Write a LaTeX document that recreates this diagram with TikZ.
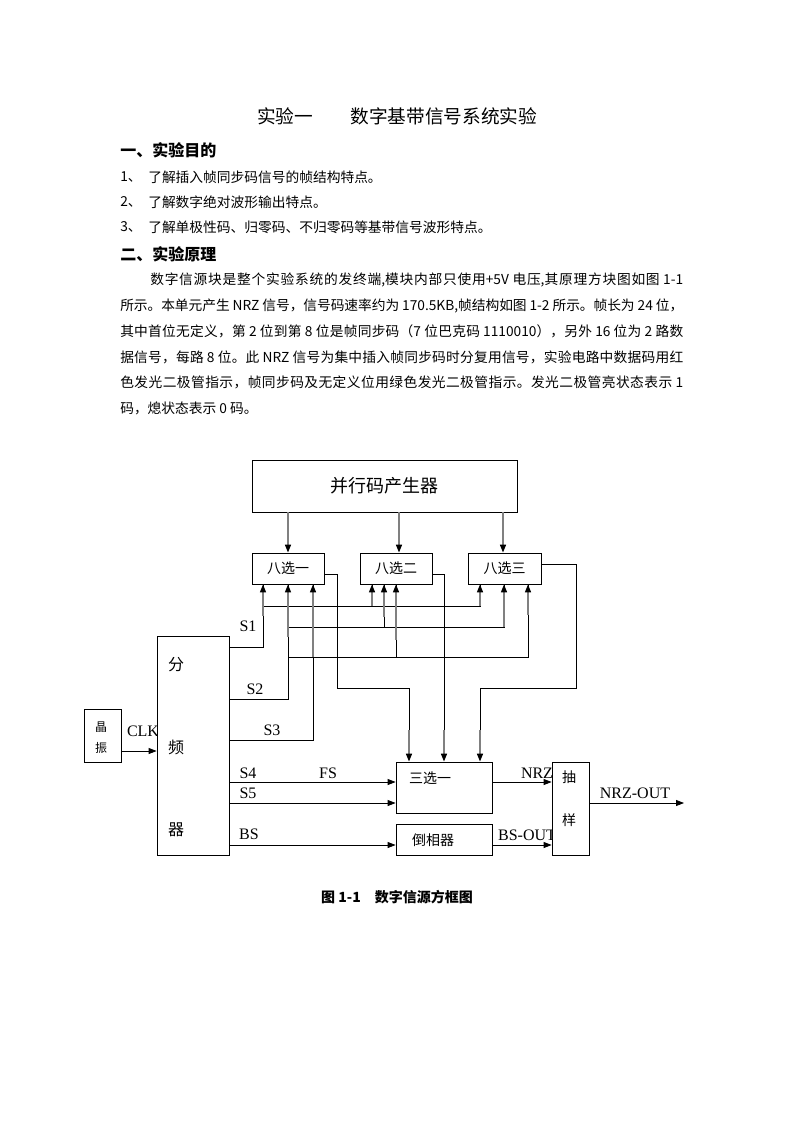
\documentclass[tikz,border=0pt]{standalone}
\usepackage{fontspec}
\setmainfont{Liberation Serif}
\newfontfamily\cjk{Noto Sans CJK SC}
\usetikzlibrary{positioning,arrows.meta}
% classes for justified CJK lines
\newcount\cjkcode
\cjkcode="4E00
\loop
  \XeTeXcharclass\cjkcode=1
  \advance\cjkcode by 1
\ifnum\cjkcode<"A000 \repeat
\XeTeXcharclass"3001=3
\XeTeXcharclass"3002=3
\XeTeXcharclass"FF0C=3
\XeTeXcharclass"FF09=3
\XeTeXcharclass"FF08=2
\XeTeXinterchartokenstate=1
\XeTeXinterchartoks 1 1 = {\hskip 0pt plus 2pt minus 0.4pt}
\XeTeXinterchartoks 1 2 = {\hskip 0pt plus 2pt minus 0.4pt}
\XeTeXinterchartoks 1 3 = {\hskip 0pt plus 2pt minus 0.4pt}
\XeTeXinterchartoks 2 1 = {\hskip 0pt plus 2pt minus 0.4pt}
\XeTeXinterchartoks 3 1 = {\hskip 0pt plus 2pt minus 0.4pt}
\XeTeXinterchartoks 3 2 = {\hskip 0pt plus 2pt minus 0.4pt}

\begin{document}
\begin{tikzpicture}[x=0.75pt,y=-0.75pt,
    >={Triangle[length=6pt,width=4.5pt]},
    box/.style={draw, line width=0.6pt, fill=white, inner sep=0pt},
    wire/.style={line width=0.6pt},
    feed/.style={draw=gray, line width=1.1pt,
        -{Triangle[length=6pt,width=4.5pt,color=black]}},
    lbl/.style={inner sep=0pt, font=\fontsize{12pt}{14pt}\selectfont},
    cn/.style={inner sep=0pt, font=\cjk\fontsize{10.5pt}{12pt}\selectfont},
    body/.style={inner sep=0pt, anchor=west,
        font=\cjk\fontsize{10.3pt}{12pt}\selectfont},
    head/.style={inner sep=0pt, anchor=west,
        font=\cjk\bfseries\fontsize{12pt}{14pt}\selectfont}
]
\useasboundingbox (0,0) rectangle (793,1122);

% TITLE AND TEXT
\node[cn, font=\cjk\fontsize{14pt}{16pt}\selectfont] (title) at (397,116)
{实验一　　数字基带信号系统实验};

\node[head] (aim) at (120,150) {一、实验目的};
\node[body] (n1) at (120,177) {1、};
\node[body] (aim1) at (148,177) {了解插入帧同步码信号的帧结构特点。};
\node[body] (n2) at (120,202) {2、};
\node[body] (aim2) at (148,202) {了解数字绝对波形输出特点。};
\node[body] (n3) at (120,227) {3、};
\node[body] (aim3) at (148,227) {了解单极性码、归零码、不归零码等基带信号波形特点。};

\node[head] (principle) at (120,254) {二、实验原理};
\node[body] (p1) at (150,280)
{\makebox[399.75pt][s]{数字信源块是整个实验系统的发终端,模块内部只使用+5V 电压,其原理方块图如图 1-1}};
\node[body] (p2) at (120,306)
{\makebox[422.25pt][s]{所示。本单元产生 NRZ 信号，信号码速率约为 170.5KB,帧结构如图 1-2 所示。帧长为 24 位，}};
\node[body] (p3) at (120,331)
{\makebox[422.25pt][s]{其中首位无定义，第 2 位到第 8 位是帧同步码（7 位巴克码 1110010），另外 16 位为 2 路数}};
\node[body] (p4) at (120,357)
{\makebox[422.25pt][s]{据信号，每路 8 位。此 NRZ 信号为集中插入帧同步码时分复用信号，实验电路中数据码用红}};
\node[body] (p5) at (120,382)
{\makebox[422.25pt][s]{色发光二极管指示，帧同步码及无定义位用绿色发光二极管指示。发光二极管亮状态表示 1}};
\node[body] (p6) at (120,408) {码，熄状态表示 0 码。};

% SIGNAL LABELS
\node[lbl] (lS1) at (248,626) {S1};
\node[lbl] (lS2) at (255,689) {S2};
\node[lbl] (lS3) at (272,730) {S3};
\node[lbl] (lS4) at (248,773) {S4};
\node[lbl] (lFS) at (328,773) {FS};
\node[lbl] (lS5) at (248,793) {S5};
\node[lbl] (lBS) at (249,834) {BS};
\node[lbl] (lCLK) at (143,731) {CLK};
\node[lbl] (lNRZ) at (537,773) {NRZ};
\node[lbl] (lBSOUT) at (527,835) {BS-OUT};
\node[lbl] (lOUT) at (635,793) {NRZ-OUT};

% BLOCKS
\node[box, minimum width=198.75pt, minimum height=39pt,
    font=\cjk\fontsize{13.5pt}{15pt}\selectfont] (gen) at (384.5,486) {并行码产生器};

\node[box, cn, draw, fill=white, minimum width=54pt, minimum height=23.25pt] (mux1) at (288,568.5) {八选一};
\node[box, cn, draw, fill=white, minimum width=54pt, minimum height=23.25pt] (mux2) at (396,568.5) {八选二};
\node[box, cn, draw, fill=white, minimum width=54.75pt, minimum height=23.25pt] (mux3) at (504.5,568.5) {八选三};

\node[box, minimum width=54pt, minimum height=164.25pt] (div) at (193,745.5) {};
\node[cn, font=\cjk\fontsize{12pt}{14pt}\selectfont] (divA) at (176,665) {分};
\node[cn, font=\cjk\fontsize{12pt}{14pt}\selectfont] (divB) at (176,747) {频};
\node[cn, font=\cjk\fontsize{12pt}{14pt}\selectfont] (divC) at (176,830) {器};

\node[box, minimum width=27.75pt, minimum height=39.75pt] (osc) at (102.5,735.5) {};
\node[cn, font=\cjk\fontsize{9pt}{11pt}\selectfont] (oscA) at (101,727) {晶};
\node[cn, font=\cjk\fontsize{9pt}{11pt}\selectfont] (oscB) at (101,748) {振};

\node[box, minimum width=72pt, minimum height=38.25pt] (sel) at (444,787.5) {};
\node[cn] (selT) at (430,778) {三选一};

\node[box, minimum width=72pt, minimum height=23.25pt] (inv) at (444,839.5) {};
\node[cn] (invT) at (433,840) {倒相器};

\node[box, minimum width=27.75pt, minimum height=69.75pt] (smp) at (570.5,808.5) {};
\node[cn] (smpA) at (569,777) {抽};
\node[cn] (smpB) at (569,820) {样};

\coordinate (out) at (684,803);

% PARALLEL CODE TO MUXES
\draw[feed] (gen.south -| mux1.north) -- (mux1.north);
\draw[feed] (gen.south -| 399,0) -- (399,0 |- mux2.north);
\draw[feed] (gen.south -| 503,0) -- (503,0 |- mux3.north);

% S1, S2, S3 WIRING
\draw[wire] (div.east |- 0,647) -| (263,0 |- mux1.south);
\draw[wire] (263,606) -| (372,0 |- mux2.south);
\draw[wire] (372,606) -| (480,0 |- mux3.south);
\draw[wire] (div.east |- 0,699) -| (288,0 |- mux1.south);
\draw[wire] (288,627) -| (384,0 |- mux2.south);
\draw[wire] (384,627) -| (504,0 |- mux3.south);
\draw[wire] (288,657) -| (396,0 |- mux2.south);
\draw[wire] (396,657) -| (528,0 |- mux3.south);
\draw[wire] (div.east |- 0,740) -| (313,0 |- mux1.south);

\foreach \x/\y/\m in {263/616/mux1, 288/637/mux1, 313/657/mux1,
    372/606/mux2, 384/617/mux2, 396/640/mux2,
    480/606/mux3, 504/627/mux3, 528/615/mux3}
    \draw[feed] (\x,\y) -- (\x,0 |- \m.south);

% MUX OUTPUTS
\draw[wire] (mux1.east |- 0,574) -- (337,574) -- (337,688) -- (409,688) -- (409,730);
\draw[wire] (mux2.east |- 0,574) -- (444,574) -- (444,730);
\draw[wire] (mux3.east |- 0,564) -- (576,564) -- (576,688) -- (480,688) -- (480,730);
\foreach \x in {409,444,480}
    \draw[feed] (\x,730) -- (\x,0 |- sel.north);

% LOWER SIGNALS
\draw[wire,->] (osc.east |- 0,751) -- (div.west |- 0,751);
\draw[wire,->] (div.east |- 0,782) -- (sel.west |- 0,782);
\draw[wire,->] (div.east |- 0,803) -- (sel.west |- 0,803);
\draw[wire,->] (div.east |- 0,845) -- (inv.west |- 0,845);
\draw[wire,->] (sel.east |- 0,782) -- (smp.west |- 0,782);
\draw[wire,->] (inv.east |- 0,845) -- (smp.west |- 0,845);
\draw[wire,->] (smp.east |- out) -- (out);

\node[cn, font=\cjk\bfseries\fontsize{10.5pt}{12pt}\selectfont] (caption) at (397,897)
{图 1-1　数字信源方框图};

\end{tikzpicture}
\end{document}
